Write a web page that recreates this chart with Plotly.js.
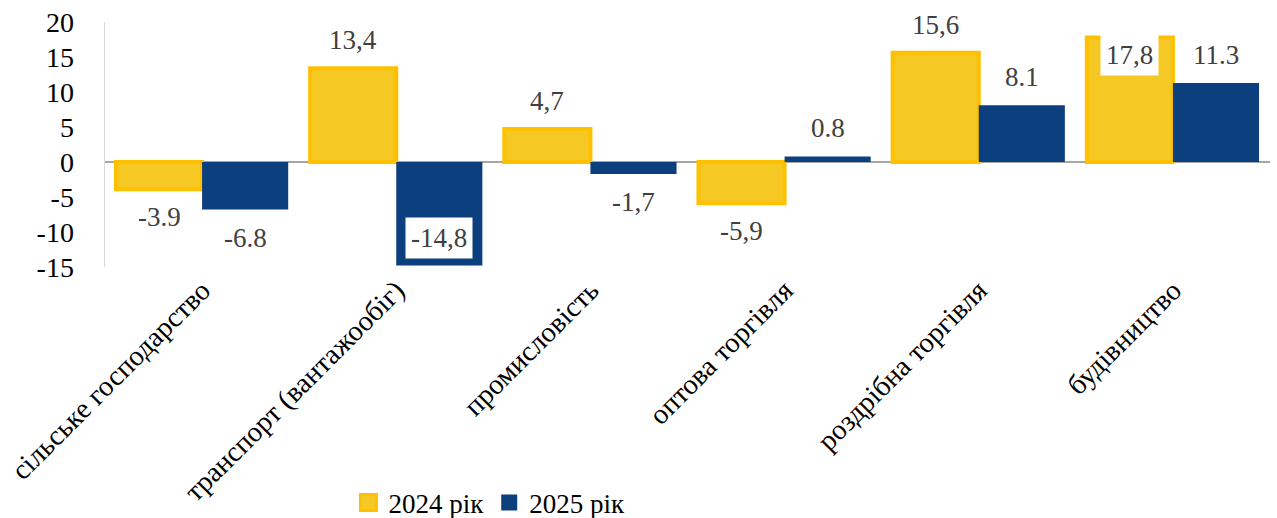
<!DOCTYPE html>
<html>
<head>
<meta charset="utf-8">
<script src="https://cdn.plot.ly/plotly-3.0.1.min.js"></script>
<style>html,body{margin:0;padding:0;background:#fff;}#chart{width:1277px;height:518px;}</style>
</head>
<body>
<div id="chart"></div>
<script>
const categories = ["сільське господарство", "транспорт (вантажообіг)", "промисловість", "оптова торгівля", "роздрібна торгівля", "будівництво"];
const values2024 = [-3.9, 13.4, 4.7, -5.9, 15.6, 17.8];
const values2025 = [-6.8, -14.8, -1.7, 0.8, 8.1, 11.3];
const labels2024 = ["-3.9", "13,4", "4,7", "-5,9", "15,6", "17,8"];
const labels2025 = ["-6.8", "-14,8", "-1,7", "0.8", "8.1", "11.3"];
const seriesNames = ["2024 рік", "2025 рік"];
const yTicks = [-15, -10, -5, 0, 5, 10, 15, 20];

const FONT = "Liberation Serif";
const BARGAP = 0.113;
const yellowFill = "#F5C823", yellowLine = "#FFC000", blue = "#0C3F7E";
const Y_MIN = -15, Y_MAX = 20;

const traces = [
  {type: "bar", name: seriesNames[0], x: categories, y: values2024, showlegend: false,
   marker: {color: yellowFill, line: {color: yellowLine, width: 4}}, hoverinfo: "none"},
  {type: "bar", name: seriesNames[1], x: categories, y: values2025, showlegend: false,
   marker: {color: blue, line: {width: 0}}, hoverinfo: "none"},
  // legend entries (larger square keys)
  {type: "scatter", mode: "markers", name: seriesNames[0], x: [null], y: [null],
   marker: {symbol: "square", size: 19, color: yellowFill, line: {color: yellowLine, width: 3}}, hoverinfo: "none"},
  {type: "scatter", mode: "markers", name: seriesNames[1], x: [null], y: [null],
   marker: {symbol: "square", size: 17, color: blue, line: {width: 0}}, hoverinfo: "none"}
];

// data labels: outside end, moved to inside end when they would not fit in the plot area
const OUT_OFF = 4, IN_OFF_POS = 2.5, IN_OFF_NEG = 3.9;
const halfW = (1 - BARGAP) / 4;
const annotations = [];
function addLabels(vals, texts, dx) {
  vals.forEach((v, i) => {
    let y = v + (v >= 0 ? OUT_OFF : -OUT_OFF);
    let inside = false;
    if (y > Y_MAX - 0.3) { y = v - IN_OFF_POS; inside = true; }
    if (y < Y_MIN + 0.3) { y = v + IN_OFF_NEG; inside = true; }
    annotations.push({
      x: i + dx, y: y, xref: "x", yref: "y", text: texts[i], showarrow: false,
      font: {family: FONT, size: 27, color: "#404040"},
      bgcolor: inside ? "#FFFFFF" : "rgba(0,0,0,0)", borderpad: inside ? 5 : 0,
      xanchor: "center", yanchor: "middle"
    });
  });
}
addLabels(values2024, labels2024, -halfW);
addLabels(values2025, labels2025, halfW);

const layout = {
  width: 1277, height: 518,
  margin: {l: 105, r: 7, t: 22, b: 251, autoexpand: false},
  paper_bgcolor: "#fff", plot_bgcolor: "#fff",
  barmode: "group", bargap: BARGAP, bargroupgap: 0,
  font: {family: FONT, size: 27, color: "#000"},
  xaxis: {type: "category", tickangle: -45, showgrid: false, showline: false, ticks: "",
          tickfont: {family: FONT, size: 28.5, color: "#000"}, automargin: false, fixedrange: true},
  yaxis: {range: [Y_MIN, Y_MAX], tickvals: yTicks, ticktext: yTicks.map(String), showgrid: false,
          zeroline: true, zerolinecolor: "#A6A6A6", zerolinewidth: 2,
          showline: true, linecolor: "#D9D9D9", linewidth: 1.5, ticks: "",
          ticklabelstandoff: 24,
          tickfont: {family: FONT, size: 28, color: "#000"}, automargin: false, fixedrange: true},
  showlegend: true,
  legend: {orientation: "h", x: 0.33, xanchor: "center", y: -0.963, yanchor: "middle",
           font: {family: FONT, size: 27, color: "#000"}, itemwidth: 30, bgcolor: "rgba(0,0,0,0)"},
  annotations: annotations
};

Plotly.newPlot("chart", traces, layout, {staticPlot: true, displayModeBar: false});
</script>
</body>
</html>
